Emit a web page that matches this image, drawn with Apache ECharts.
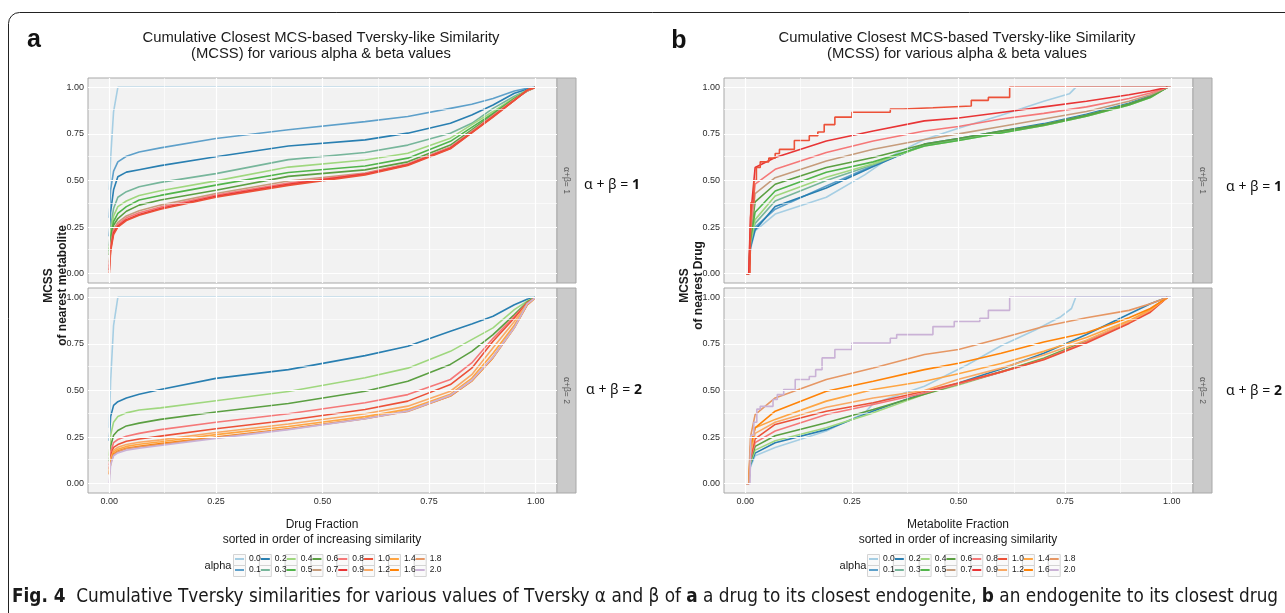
<!DOCTYPE html>
<html>
<head>
<meta charset="utf-8">
<script src="https://cdn.jsdelivr.net/npm/echarts@6/dist/echarts.min.js"></script>
<style>
  html, body { margin: 0; padding: 0; background: #fff; }
  #chart { width: 1285px; height: 613px; }
</style>
</head>
<body>
<div id="chart"></div>
<script>
// fraction grids (x) shared by the smooth curves of each figure half
const fracA = [0, 0.003, 0.01, 0.02, 0.04, 0.07, 0.12, 0.25, 0.42, 0.6, 0.7, 0.8, 0.85, 0.9, 0.95, 0.98, 1.0];
const fracB = [0, 0.008, 0.012, 0.023, 0.07, 0.19, 0.3, 0.42, 0.5, 0.6, 0.7, 0.8, 0.9, 0.95, 0.99];

// a: drug -> closest metabolite, alpha + beta = 1
const a1_00 = [0.45, 0.62, 0.87, 1, 1, 1, 1, 1, 1, 1, 1, 1, 1, 1, 1, 1, 1];
const a1_01 = [0.3, 0.45, 0.55, 0.6, 0.63, 0.653, 0.675, 0.725, 0.772, 0.816, 0.843, 0.887, 0.909, 0.94, 0.98, 0.995, 1];
const a1_02 = [0.2, 0.33, 0.45, 0.52, 0.545, 0.558, 0.58, 0.627, 0.685, 0.718, 0.754, 0.807, 0.852, 0.905, 0.968, 0.99, 1];
const a1_03 = [0.15, 0.25, 0.35, 0.41, 0.44, 0.466, 0.49, 0.537, 0.612, 0.65, 0.69, 0.754, 0.807, 0.887, 0.952, 0.985, 1];
const a1_04 = [0.13, 0.22, 0.31, 0.36, 0.39, 0.42, 0.445, 0.498, 0.572, 0.61, 0.646, 0.727, 0.8, 0.87, 0.945, 0.985, 1];
const a1_05 = [0.12, 0.2, 0.28, 0.323, 0.36, 0.395, 0.42, 0.475, 0.543, 0.578, 0.62, 0.71, 0.785, 0.86, 0.94, 0.982, 1];
const a1_06 = [0.1, 0.18, 0.26, 0.296, 0.335, 0.368, 0.395, 0.448, 0.522, 0.557, 0.6, 0.69, 0.772, 0.855, 0.937, 0.98, 1];
const a1_07 = [0.06, 0.15, 0.24, 0.275, 0.31, 0.338, 0.368, 0.43, 0.497, 0.54, 0.59, 0.68, 0.765, 0.85, 0.935, 0.98, 1];
const a1_08 = [0.04, 0.14, 0.23, 0.265, 0.3, 0.327, 0.358, 0.422, 0.487, 0.537, 0.587, 0.677, 0.76, 0.847, 0.932, 0.982, 1];
const a1_09 = [0.02, 0.13, 0.22, 0.255, 0.29, 0.318, 0.35, 0.415, 0.479, 0.534, 0.584, 0.673, 0.757, 0.843, 0.93, 0.985, 1];
const a1_10 = [0, 0.12, 0.21, 0.25, 0.285, 0.313, 0.346, 0.41, 0.474, 0.53, 0.58, 0.67, 0.755, 0.84, 0.93, 0.985, 1];

// a: alpha + beta = 2
const a2_00 = [0.3, 0.55, 0.85, 1, 1, 1, 1, 1, 1, 1, 1, 1, 1, 1, 1, 1, 1];
const a2_02 = [0.23, 0.36, 0.42, 0.44, 0.46, 0.48, 0.505, 0.565, 0.612, 0.687, 0.737, 0.818, 0.857, 0.898, 0.96, 0.99, 1];
const a2_04 = [0.15, 0.26, 0.33, 0.36, 0.38, 0.395, 0.407, 0.445, 0.495, 0.568, 0.62, 0.71, 0.773, 0.836, 0.934, 0.98, 1];
const a2_06 = [0.12, 0.2, 0.26, 0.285, 0.31, 0.325, 0.345, 0.385, 0.43, 0.496, 0.55, 0.64, 0.71, 0.8, 0.907, 0.975, 1];
const a2_08 = [0.1, 0.17, 0.22, 0.237, 0.255, 0.27, 0.29, 0.33, 0.375, 0.434, 0.478, 0.559, 0.648, 0.78, 0.898, 0.97, 1];
const a2_10 = [0.08, 0.15, 0.195, 0.21, 0.228, 0.24, 0.255, 0.295, 0.34, 0.398, 0.443, 0.532, 0.62, 0.764, 0.889, 0.97, 1];
const a2_12 = [0.07, 0.13, 0.18, 0.195, 0.21, 0.222, 0.235, 0.275, 0.32, 0.375, 0.416, 0.496, 0.585, 0.73, 0.87, 0.965, 1];
const a2_14 = [0.06, 0.12, 0.17, 0.185, 0.2, 0.212, 0.225, 0.263, 0.307, 0.36, 0.4, 0.48, 0.565, 0.7, 0.85, 0.96, 1];
const a2_16 = [0.05, 0.11, 0.16, 0.175, 0.19, 0.2, 0.215, 0.25, 0.295, 0.35, 0.39, 0.47, 0.55, 0.675, 0.836, 0.96, 1];
const a2_18 = [0.05, 0.11, 0.155, 0.172, 0.187, 0.197, 0.21, 0.248, 0.292, 0.348, 0.388, 0.47, 0.552, 0.68, 0.84, 0.96, 1];
const a2_20 = [0, 0.1, 0.15, 0.165, 0.18, 0.19, 0.205, 0.243, 0.29, 0.348, 0.39, 0.475, 0.555, 0.68, 0.838, 0.965, 1];

// b: metabolite -> closest drug, alpha + beta = 1
const b1_00x = [0, 0.008, 0.012, 0.023, 0.07, 0.19, 0.28, 0.35, 0.42, 0.5, 0.6, 0.7, 0.76, 0.775, 1];
const b1_00y = [0, 0, 0.13, 0.23, 0.32, 0.41, 0.53, 0.64, 0.72, 0.78, 0.85, 0.925, 0.965, 1, 1];
const b1_01 = [0, 0, 0.15, 0.25, 0.346, 0.47, 0.58, 0.69, 0.72, 0.76, 0.8, 0.85, 0.91, 0.95, 1];
const b1_02 = [0, 0, 0.14, 0.235, 0.36, 0.46, 0.575, 0.695, 0.725, 0.765, 0.805, 0.855, 0.915, 0.955, 1];
const b1_03 = [0, 0, 0.16, 0.27, 0.39, 0.5, 0.585, 0.69, 0.72, 0.76, 0.8, 0.85, 0.91, 0.95, 1];
const b1_04 = [0, 0, 0.17, 0.29, 0.417, 0.517, 0.59, 0.685, 0.715, 0.755, 0.795, 0.845, 0.905, 0.945, 1];
const b1_05 = [0, 0, 0.18, 0.33, 0.444, 0.544, 0.6, 0.685, 0.715, 0.755, 0.795, 0.845, 0.905, 0.945, 1];
const b1_06 = [0, 0, 0.2, 0.385, 0.48, 0.57, 0.623, 0.695, 0.725, 0.765, 0.8, 0.85, 0.91, 0.95, 1];
const b1_07 = [0, 0, 0.22, 0.43, 0.515, 0.605, 0.668, 0.72, 0.75, 0.79, 0.83, 0.87, 0.925, 0.96, 1];
const b1_08 = [0, 0, 0.25, 0.48, 0.56, 0.65, 0.712, 0.766, 0.79, 0.83, 0.86, 0.895, 0.94, 0.97, 1];
const b1_09 = [0, 0, 0.3, 0.57, 0.623, 0.712, 0.766, 0.82, 0.835, 0.865, 0.895, 0.925, 0.96, 0.98, 1];
const b1_10x = [0, 0.011, 0.013, 0.02, 0.026, 0.035, 0.055, 0.07, 0.08, 0.115, 0.15, 0.17, 0.185, 0.21, 0.25, 0.34, 0.37, 0.44, 0.53, 0.57, 0.62, 1];
const b1_10y = [0, 0, 0.38, 0.5, 0.57, 0.6, 0.62, 0.645, 0.667, 0.715, 0.74, 0.76, 0.8, 0.84, 0.866, 0.884, 0.89, 0.9, 0.93, 0.946, 1, 1];

// b: alpha + beta = 2
const b2_00x = [0, 0.008, 0.012, 0.023, 0.07, 0.19, 0.28, 0.3, 0.42, 0.52, 0.6, 0.68, 0.74, 0.765, 0.775, 1];
const b2_00y = [0, 0, 0.09, 0.15, 0.194, 0.283, 0.38, 0.43, 0.523, 0.637, 0.74, 0.825, 0.896, 0.94, 1, 1];
const b2_02 = [0, 0, 0.1, 0.164, 0.22, 0.29, 0.39, 0.487, 0.54, 0.615, 0.7, 0.8, 0.91, 0.965, 1];
const b2_04 = [0, 0, 0.11, 0.18, 0.23, 0.3, 0.38, 0.48, 0.53, 0.6, 0.675, 0.765, 0.87, 0.93, 1];
const b2_06 = [0, 0, 0.12, 0.2, 0.257, 0.327, 0.398, 0.48, 0.535, 0.6, 0.672, 0.765, 0.87, 0.93, 1];
const b2_08 = [0, 0, 0.13, 0.22, 0.283, 0.371, 0.425, 0.487, 0.535, 0.598, 0.668, 0.76, 0.865, 0.925, 1];
const b2_10 = [0, 0, 0.14, 0.24, 0.318, 0.389, 0.434, 0.496, 0.54, 0.6, 0.665, 0.755, 0.86, 0.92, 1];
const b2_12 = [0, 0, 0.16, 0.27, 0.33, 0.41, 0.46, 0.5, 0.56, 0.62, 0.69, 0.77, 0.87, 0.93, 1];
const b2_14 = [0, 0, 0.18, 0.3, 0.345, 0.443, 0.505, 0.55, 0.59, 0.645, 0.71, 0.785, 0.875, 0.935, 1];
const b2_16 = [0, 0, 0.2, 0.3, 0.389, 0.496, 0.55, 0.612, 0.646, 0.7, 0.76, 0.81, 0.89, 0.94, 1];
const b2_18 = [0, 0, 0.25, 0.371, 0.46, 0.559, 0.621, 0.693, 0.72, 0.78, 0.843, 0.89, 0.93, 0.965, 1];
const b2_20x = [0, 0.011, 0.013, 0.02, 0.027, 0.035, 0.065, 0.075, 0.09, 0.117, 0.15, 0.165, 0.18, 0.21, 0.25, 0.34, 0.355, 0.44, 0.49, 0.55, 0.57, 0.62, 1];
const b2_20y = [0, 0, 0.26, 0.33, 0.4, 0.415, 0.452, 0.478, 0.505, 0.559, 0.575, 0.612, 0.675, 0.72, 0.755, 0.78, 0.8, 0.843, 0.87, 0.887, 0.93, 1, 1];

const legendRow1 = ['0.0', '0.2', '0.4', '0.6', '0.8', '1.0', '1.4', '1.8'];
const legendRow2 = ['0.1', '0.3', '0.5', '0.7', '0.9', '1.2', '1.6', '2.0'];
const tickValues = [0, 0.25, 0.5, 0.75, 1];
const minorValues = [0.125, 0.375, 0.625, 0.875];

const alphaColor = {
  '0.0': '#A6CEE3', '0.1': '#5EA0CA', '0.2': '#297FB1', '0.3': '#77B69B',
  '0.4': '#9FD77E', '0.5': '#51B54B', '0.6': '#5B9F42', '0.7': '#C69C7C',
  '0.8': '#F57878', '0.9': '#E83435', '1.0': '#EC5138', '1.2': '#F9A964',
  '1.4': '#FEA543', '1.6': '#FF8307', '1.8': '#E69764', '2.0': '#CAB2D6'
};

// [name, y values, own x values (optional), step]
const panels = [
  { xs: fracA, curves: [['0.0', a1_00], ['0.1', a1_01], ['0.2', a1_02], ['0.3', a1_03], ['0.4', a1_04],
      ['0.5', a1_05], ['0.6', a1_06], ['0.7', a1_07], ['0.8', a1_08], ['0.9', a1_09], ['1.0', a1_10]] },
  { xs: fracA, curves: [['0.0', a2_00], ['0.2', a2_02], ['0.4', a2_04], ['0.6', a2_06], ['0.8', a2_08],
      ['1.0', a2_10], ['1.2', a2_12], ['1.4', a2_14], ['1.6', a2_16], ['1.8', a2_18], ['2.0', a2_20]] },
  { xs: fracB, curves: [['0.0', b1_00y, b1_00x], ['0.1', b1_01], ['0.2', b1_02], ['0.3', b1_03], ['0.4', b1_04],
      ['0.5', b1_05], ['0.6', b1_06], ['0.7', b1_07], ['0.8', b1_08], ['0.9', b1_09], ['1.0', b1_10y, b1_10x, true]] },
  { xs: fracB, curves: [['0.0', b2_00y, b2_00x], ['0.2', b2_02], ['0.4', b2_04], ['0.6', b2_06], ['0.8', b2_08],
      ['1.0', b2_10], ['1.2', b2_12], ['1.4', b2_14], ['1.6', b2_16], ['1.8', b2_18], ['2.0', b2_20y, b2_20x, true]] }
];

const FONT = "'Liberation Sans', Arial, sans-serif";
const grids = [
  { left: 88, top: 78, width: 469, height: 205 },
  { left: 88, top: 288, width: 469, height: 205 },
  { left: 724, top: 78, width: 469, height: 205 },
  { left: 724, top: 288, width: 469, height: 205 }
].map(g => Object.assign(g, { show: true, backgroundColor: '#F2F2F2', borderColor: '#A8A8A8', borderWidth: 1 }));

const fmt = v => v.toFixed(2);
const xAxes = grids.map((g, i) => {
  const bottom = i % 2 === 1;
  return {
    type: 'value', gridIndex: i, min: -0.05, max: 1.05,
    axisLine: { show: false }, splitLine: { show: false },
    axisTick: { show: bottom, customValues: tickValues, length: 3, lineStyle: { color: '#333' } },
    axisLabel: { show: bottom, customValues: tickValues, formatter: fmt, fontSize: 9, color: '#2b2b2b', margin: 4, fontFamily: FONT }
  };
});
const yAxes = grids.map((g, i) => ({
  type: 'value', gridIndex: i, min: -0.05, max: 1.05,
  axisLine: { show: false }, splitLine: { show: false },
  axisTick: { show: true, customValues: tickValues, length: 3, lineStyle: { color: '#333' } },
  axisLabel: { customValues: tickValues, formatter: fmt, fontSize: 9, color: '#2b2b2b', margin: 4, fontFamily: FONT }
}));

const pairs = (xs, ys) => xs.map((x, i) => [x, ys[i]]);
const gridLine = (key, v, w) => ({ [key]: v, lineStyle: { color: '#fff', width: w, type: 'solid' } });

const series = [];
panels.forEach((p, gi) => {
  series.push({
    type: 'line', name: 'gridlines' + gi, xAxisIndex: gi, yAxisIndex: gi, data: [], z: 1, silent: true,
    markLine: {
      silent: true, symbol: 'none', animation: false, label: { show: false },
      data: [].concat(
        minorValues.map(v => gridLine('xAxis', v, 0.6)), minorValues.map(v => gridLine('yAxis', v, 0.6)),
        tickValues.map(v => gridLine('xAxis', v, 1.2)), tickValues.map(v => gridLine('yAxis', v, 1.2)))
    }
  });
  p.curves.forEach(([name, ys, ownX, step]) => {
    series.push({
      type: 'line', name, xAxisIndex: gi, yAxisIndex: gi, z: 2,
      data: pairs(ownX || p.xs, ys),
      step: step ? 'end' : false,
      showSymbol: false, symbol: 'none', clip: true,
      color: alphaColor[name],
      lineStyle: { width: 1.6, color: alphaColor[name] },
      emphasis: { disabled: true }
    });
  });
});

// legend layout (two rows per figure half, column order like ggplot)
const LEG_FONT = 8.5, LEG_ICON = 9;
const mctx = document.createElement('canvas').getContext('2d');
mctx.font = LEG_FONT + 'px "Liberation Sans"';
const keyPitch = LEG_ICON + 5 + mctx.measureText('0.0').width;
const legendLefts = [235, 869];
const rowCenters = [560, 571];

const legends = [];
const graphics = [];
legendLefts.forEach(left => {
  [legendRow1, legendRow2].forEach((names, r) => {
    legends.push({
      data: names, left, top: rowCenters[r] - 5.5, orient: 'horizontal', padding: 0,
      icon: 'rect', itemWidth: LEG_ICON, itemHeight: 2, itemGap: 0, selectedMode: false,
      textStyle: { fontSize: LEG_FONT, color: '#1a1a1a', fontFamily: FONT }
    });
    names.forEach((n, i) => {
      graphics.push({ type: 'rect', z: 0, shape: { x: left - 1.5 + i * keyPitch, y: rowCenters[r] - 5.5, width: 12, height: 11 },
        style: { fill: '#FAFAFA', stroke: '#D4D4D4', lineWidth: 1 } });
    });
  });
});

const txt = (x, y, text, extra, rot) => ({
  type: 'text', x, y, rotation: rot || 0, z: 5,
  style: Object.assign({ text, fill: '#1a1a1a', fontFamily: FONT, fontSize: 12, align: 'center', verticalAlign: 'middle' }, extra)
});

// outer frame
graphics.push({ type: 'rect', z: 0, shape: { x: 8.5, y: 12.5, width: 1320, height: 700, r: 11 }, style: { fill: 'none', stroke: '#222', lineWidth: 1 } });

// panel letters and titles
graphics.push(txt(34, 40, 'a', { fontSize: 25, fontWeight: 'bold', fill: '#111' }));
graphics.push(txt(679, 41, 'b', { fontSize: 25, fontWeight: 'bold', fill: '#111' }));
const titleText = 'Cumulative Closest MCS-based Tversky-like Similarity\n(MCSS) for various alpha & beta values';
graphics.push(txt(321, 46, titleText, { fontSize: 14.8, lineHeight: 16 }));
graphics.push(txt(957, 46, titleText, { fontSize: 14.8, lineHeight: 16 }));

// facet strips
const stripLabels = ['α+β= 1', 'α+β= 2', 'α+β= 1', 'α+β= 2'];
grids.forEach((g, i) => {
  graphics.push({ type: 'rect', z: 0, shape: { x: g.left + g.width, y: g.top, width: 19, height: g.height },
    style: { fill: '#CACACA', stroke: '#A8A8A8', lineWidth: 1 } });
  graphics.push(txt(g.left + g.width + 9.5, g.top + g.height / 2, stripLabels[i], { fontSize: 8.5, fill: '#5a5a5a' }, -Math.PI / 2));
});

// annotations to the right of the strips
const sumLabel = n => '{n|α + β = }{b|' + n + '}';
const rich = { n: { fontSize: 14, fontFamily: "'Noto Sans', sans-serif", fill: '#111' }, b: { fontSize: 14, fontWeight: 'bold', fontFamily: "'Noto Sans', sans-serif", fill: '#111' } };
graphics.push(txt(612, 185, sumLabel(1), { rich }));
graphics.push(txt(614, 390, sumLabel(2), { rich }));
graphics.push(txt(1254, 187, sumLabel(1), { rich }));
graphics.push(txt(1254, 391, sumLabel(2), { rich }));

// axis titles
graphics.push(txt(56, 285.5, 'MCSS\nof nearest metabolite', { fontWeight: 'bold', fontSize: 12, lineHeight: 14 }, Math.PI / 2));
graphics.push(txt(692, 285.5, 'MCSS\nof nearest Drug', { fontWeight: 'bold', fontSize: 12, lineHeight: 14 }, Math.PI / 2));
graphics.push(txt(322, 532, 'Drug Fraction\nsorted in order of increasing similarity', { fontSize: 12, lineHeight: 15 }));
graphics.push(txt(958, 532, 'Metabolite Fraction\nsorted in order of increasing similarity', { fontSize: 12, lineHeight: 15 }));
graphics.push(txt(218, 565.5, 'alpha', { fontSize: 11 }));
graphics.push(txt(853, 565.5, 'alpha', { fontSize: 11 }));

// figure caption
const CAP_FONT = "'DejaVu Sans Condensed', 'Liberation Sans Narrow', sans-serif";
graphics.push({
  type: 'text', x: 12, y: 597, z: 5,
  style: {
    text: '{b|Fig. 4}  Cumulative Tversky similarities for various values of Tversky α and β of {b|a} a drug to its closest endogenite, {b|b} an endogenite to its closest drug',
    fontFamily: CAP_FONT, fontSize: 18.8, fill: '#1a1a1a',
    align: 'left', verticalAlign: 'middle',
    rich: { b: { fontWeight: 'bold', fontFamily: CAP_FONT, fontSize: 18.8, fill: '#1a1a1a' } }
  }
});

const chart = echarts.init(document.getElementById('chart'), null, { renderer: 'canvas' });
chart.setOption({
  animation: false,
  backgroundColor: '#fff',
  grid: grids,
  xAxis: xAxes,
  yAxis: yAxes,
  legend: legends,
  graphic: { elements: graphics },
  series
});
</script>
</body>
</html>
